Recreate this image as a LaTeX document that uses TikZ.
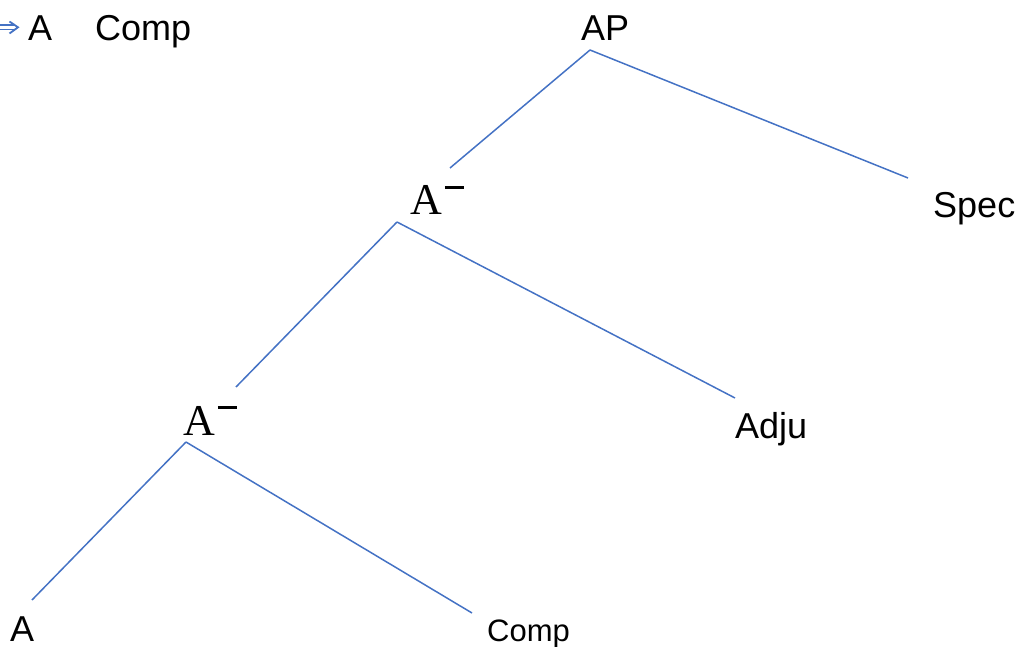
\documentclass[tikz,border=0pt]{standalone}
\usepackage{fontspec}
\setmainfont{Liberation Sans}
\newfontfamily\serifA{Liberation Serif}
\newcommand{\abar}{{\serifA A}\hspace{3pt}\raisebox{26.5pt}{\rule{19pt}{2.6pt}}}
\begin{document}
\begin{tikzpicture}[x=1pt,y=-1pt,
  lbl/.style={anchor=base west,inner sep=0pt,font=\fontsize{36}{40}\selectfont},
  slbl/.style={anchor=base west,inner sep=0pt,font=\fontsize{31}{36}\selectfont},
  bar/.style={anchor=base west,inner sep=0pt,font=\fontsize{44}{50}\selectfont},
  ]
\definecolor{lineblue}{RGB}{68,114,196}
\tikzset{edge/.style={draw=lineblue,line width=1.5pt}}
\useasboundingbox (0,0) rectangle (1023,647);
% top-left arrow
\coordinate (arrtip) at (18,27.3);
\draw[edge,line width=1.8pt,line join=miter] (9.5,21.5) -- (arrtip) -- (9.5,33.5);
\draw[edge,line width=1.8pt] (0,25) -- (15,25) (0,29.5) -- (15,29.5);
\node[lbl] (topA) at (28,41) {A};
\node[lbl] (topComp) at (95,41) {Comp};
% tree nodes
\node[lbl] (AP) at (581,41) {AP};
\node[bar] (Abar1) at (410,215) {\abar};
\node[lbl] (Spec) at (933,218) {Spec};
\node[bar] (Abar2) at (183,435) {\abar};
\node[lbl] (Adju) at (735,438) {Adju};
\node[lbl] (A) at (10,641) {A};
\node[slbl] (Comp) at (487,641) {Comp};
% connector end points
\coordinate (APb) at (590,50);
\coordinate (Abar1t) at (450,168);
\coordinate (Spect) at (908,178);
\coordinate (Abar1b) at (397,222);
\coordinate (Abar2t) at (236,387);
\coordinate (Adjut) at (735,398);
\coordinate (Abar2b) at (186,442);
\coordinate (At) at (32,600);
\coordinate (Compt) at (472,613);
\draw[edge] (APb) -- (Abar1t);
\draw[edge] (APb) -- (Spect);
\draw[edge] (Abar1b) -- (Abar2t);
\draw[edge] (Abar1b) -- (Adjut);
\draw[edge] (Abar2b) -- (At);
\draw[edge] (Abar2b) -- (Compt);
\end{tikzpicture}
\end{document}
